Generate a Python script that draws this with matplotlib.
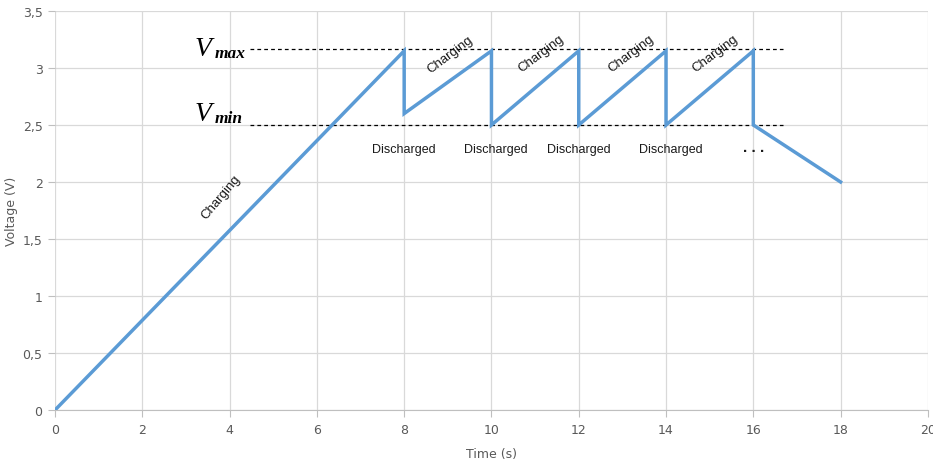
import matplotlib
matplotlib.use("Agg")
import matplotlib.pyplot as plt

# sawtooth voltage trace
time_s = [0, 8, 8, 10, 10, 12, 12, 14, 14, 16, 16, 18]
voltage = [0, 3.15, 2.6, 3.15, 2.5, 3.15, 2.5, 3.15, 2.5, 3.15, 2.5, 2.0]

v_max = 3.17
v_min = 2.5
dash_span = [4.47, 16.68]

x_ticks = list(range(0, 21, 2))
y_ticks = [0, 0.5, 1, 1.5, 2, 2.5, 3, 3.5]
y_tick_labels = ["0", "0,5", "1", "1,5", "2", "2,5", "3", "3,5"]

charging_pos = [(3.8, 1.87, 50), (9.05, 3.12, 37), (11.13, 3.13, 37), (13.2, 3.13, 37), (15.12, 3.13, 37)]
discharged_pos = [8.0, 10.1, 12.0, 14.1]

blue = "#5B9BD5"
gray = "#595959"

fig = plt.figure(figsize=(9.33, 4.64), dpi=100)
ax = fig.add_axes([0.059, 0.1142, 0.9355, 0.86])

ax.plot(time_s, voltage, color=blue, lw=2.5, solid_joinstyle="miter", zorder=3)

ax.hlines([v_max, v_min], dash_span[0], dash_span[1], colors="black",
          linestyles=(0, (3, 2.5)), lw=0.9, zorder=2)

serif = "Liberation Serif"
ax.text(3.2, v_max, "V", fontsize=20, fontstyle="italic", family=serif,
        ha="left", va="center")
ax.text(3.65, v_max - 0.04, "max", fontsize=12.5, fontstyle="italic",
        fontweight="bold", family=serif, ha="left", va="center")
ax.text(3.2, v_min + 0.1, "V", fontsize=20, fontstyle="italic", family=serif,
        ha="left", va="center")
ax.text(3.65, v_min + 0.06, "min", fontsize=12.5, fontstyle="italic",
        fontweight="bold", family=serif, ha="left", va="center")

for x, y, ang in charging_pos:
    ax.text(x, y, "Charging", fontsize=9.5, family="Liberation Sans",
            rotation=ang, rotation_mode="anchor", ha="center", va="center",
            color="#1a1a1a")
for x in discharged_pos:
    ax.text(x, 2.29, "Discharged", fontsize=9, family="Liberation Sans",
            ha="center", va="center", color="#1a1a1a")
ax.text(16.0, 2.27, ". . .", fontsize=11, fontweight="bold",
        family="Liberation Sans", ha="center", va="baseline", color="#1a1a1a")

ax.set_xlim(0, 20)
ax.set_ylim(0, 3.5)
ax.set_xticks(x_ticks)
ax.set_yticks(y_ticks)
ax.set_yticklabels(y_tick_labels)
ax.grid(True, color="#d9d9d9", lw=0.9, zorder=0)
ax.set_axisbelow(True)

for s in ["top", "right", "left"]:
    ax.spines[s].set_visible(False)
ax.spines["bottom"].set_color("#bfbfbf")
ax.tick_params(axis="x", colors="#bfbfbf", labelcolor=gray, length=5, labelsize=9, pad=4)
ax.tick_params(axis="y", colors="#bfbfbf", labelcolor=gray, length=5, labelsize=9, pad=4)

ax.set_xlabel("Time (s)", color=gray, fontsize=9, labelpad=8)
ax.set_ylabel("Voltage (V)", color=gray, fontsize=9)
ax.yaxis.set_label_coords(-0.043, 0.5)

fig.savefig("out.png", dpi=100)
